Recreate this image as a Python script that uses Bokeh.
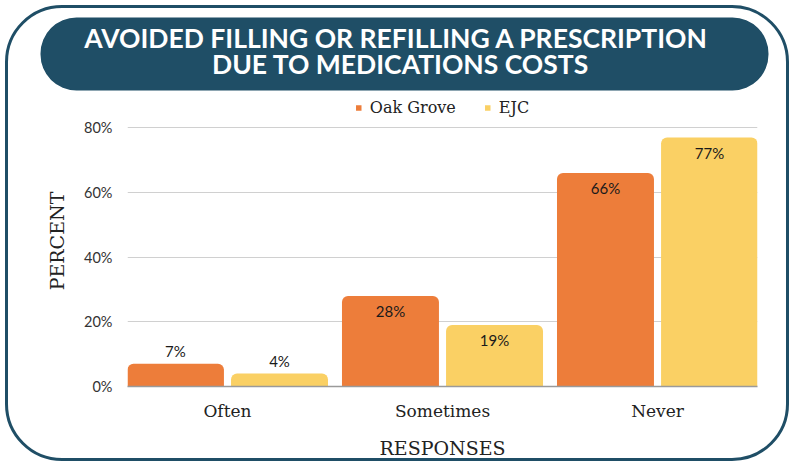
from bokeh.plotting import figure
from bokeh.layouts import column
from bokeh.models import (ColumnDataSource, Range1d, FixedTicker, Legend, LegendItem,
                          CustomJSTickFormatter)
from bokeh.core.properties import value
from bokeh.embed import file_html
from bokeh.resources import INLINE

title_lines = ["AVOIDED FILLING OR REFILLING A PRESCRIPTION", "DUE TO MEDICATIONS COSTS"]
categories = ["Often", "Sometimes", "Never"]
oak_grove = [7, 28, 66]
ejc = [4, 19, 77]
y_ticks = [0, 20, 40, 60, 80]

DARK = "#1F4E66"
ORANGE = "#ED7D3A"
YELLOW = "#FAD064"
SERIF = "DejaVu Serif"
SANS = "Lato"

W = 794
HB = 95          # banner strip height
HM = 466 - HB    # main chart height

# ---------------- banner figure (frame == canvas, pixel coordinates) --------------
b = figure(width=W, height=HB, output_backend="svg", toolbar_location=None,
           x_range=Range1d(0, W), y_range=Range1d(HB, 0),
           x_axis_type=None, y_axis_type=None, min_border=0)
b.frame_align = False
b.outline_line_color = None
b.background_fill_alpha = 0
b.border_fill_alpha = 0
b.xgrid.visible = False
b.ygrid.visible = False
b.quad(left=[40], right=[768], top=[17], bottom=[90], fill_color=DARK, line_color=None,
       border_radius=36)
b.text(x=[396, 400], y=[37, 63], text=title_lines, text_align="center",
       text_baseline="middle", text_font=value(SANS), text_font_style="bold",
       text_font_size="26.5px", text_color="white")

# ---------------- main chart ----------------
p = figure(width=W, height=HM, output_backend="svg", toolbar_location=None,
           x_range=Range1d(-0.465, 2.465), y_range=Range1d(0, 90),
           min_border_left=127, min_border_right=37, min_border_top=0, min_border_bottom=80)
p.frame_align = False
p.outline_line_color = None
p.background_fill_alpha = 0
p.border_fill_alpha = 0

xs = list(range(len(categories)))
off = 0.242
bw = 0.451
src_o = ColumnDataSource(dict(x=[x - off for x in xs], top=oak_grove))
src_e = ColumnDataSource(dict(x=[x + off for x in xs], top=ejc))
r_o = p.vbar(x="x", top="top", width=bw, source=src_o, fill_color=ORANGE, line_color=None,
             border_radius=(6, 6, 0, 0))
r_e = p.vbar(x="x", top="top", width=bw, source=src_e, fill_color=YELLOW, line_color=None,
             border_radius=(6, 6, 0, 0))

# value labels: above short bars, inside tall bars
for vals, xsrc in ((oak_grove, src_o), (ejc, src_e)):
    for xv, v in zip(xsrc.data["x"], vals):
        inside = v > 15
        p.text(x=[xv], y=[v], text=[f"{v}%"], text_align="center",
               text_baseline="middle", y_offset=15 if inside else -13,
               text_font=value(SANS), text_font_size="15px", text_color="#1a1a1a")

# axes
p.xaxis.ticker = FixedTicker(ticks=xs)
p.xaxis.major_label_overrides = {i: c for i, c in enumerate(categories)}
p.xaxis.major_label_text_font = SERIF
p.xaxis.major_label_text_font_size = "17px"
p.xaxis.major_label_text_color = "#222222"
p.xaxis.major_tick_line_color = None
p.xaxis.minor_tick_line_color = None
p.xaxis.axis_line_color = "#9a9a9a"
p.xaxis.axis_line_width = 1.5
p.xaxis.major_label_standoff = 8
p.xaxis.axis_label = "RESPONSES"
p.xaxis.axis_label_text_font = SERIF
p.xaxis.axis_label_text_font_style = "normal"
p.xaxis.axis_label_text_font_size = "19px"
p.xaxis.axis_label_text_color = "#222222"
p.xaxis.axis_label_standoff = 13

p.yaxis.ticker = FixedTicker(ticks=y_ticks)
p.yaxis.formatter = CustomJSTickFormatter(code="return tick + '%';")
p.yaxis.major_label_text_font = SANS
p.yaxis.major_label_text_font_size = "14.5px"
p.yaxis.major_label_text_color = "#333333"
p.yaxis.major_tick_line_color = None
p.yaxis.minor_tick_line_color = None
p.yaxis.axis_line_color = None
p.yaxis.major_label_standoff = 9
p.yaxis.axis_label = "PERCENT"
p.yaxis.axis_label_text_font = SERIF
p.yaxis.axis_label_text_font_style = "normal"
p.yaxis.axis_label_text_font_size = "19px"
p.yaxis.axis_label_text_color = "#222222"
p.yaxis.axis_label_standoff = 13

p.xgrid.grid_line_color = None
p.ygrid.ticker = FixedTicker(ticks=y_ticks)
p.ygrid.grid_line_color = "#d0d0d0"
p.ygrid.grid_line_width = 1

legend = Legend(items=[LegendItem(label="Oak Grove", renderers=[r_o]),
                       LegendItem(label="EJC", renderers=[r_e])],
                orientation="horizontal", location="top",
                label_text_font=SERIF, label_text_font_size="16px",
                label_text_color="#222222", glyph_width=7, glyph_height=7,
                spacing=28, label_standoff=8, border_line_color=None,
                background_fill_alpha=0, margin=3, padding=2)
p.add_layout(legend)

page = column(b, p, spacing=0,
              styles={"outline": f"3px solid {DARK}", "outline-offset": "-8px",
                      "border-radius": "62px"})

open("out.html", "w").write(file_html(page, INLINE))
